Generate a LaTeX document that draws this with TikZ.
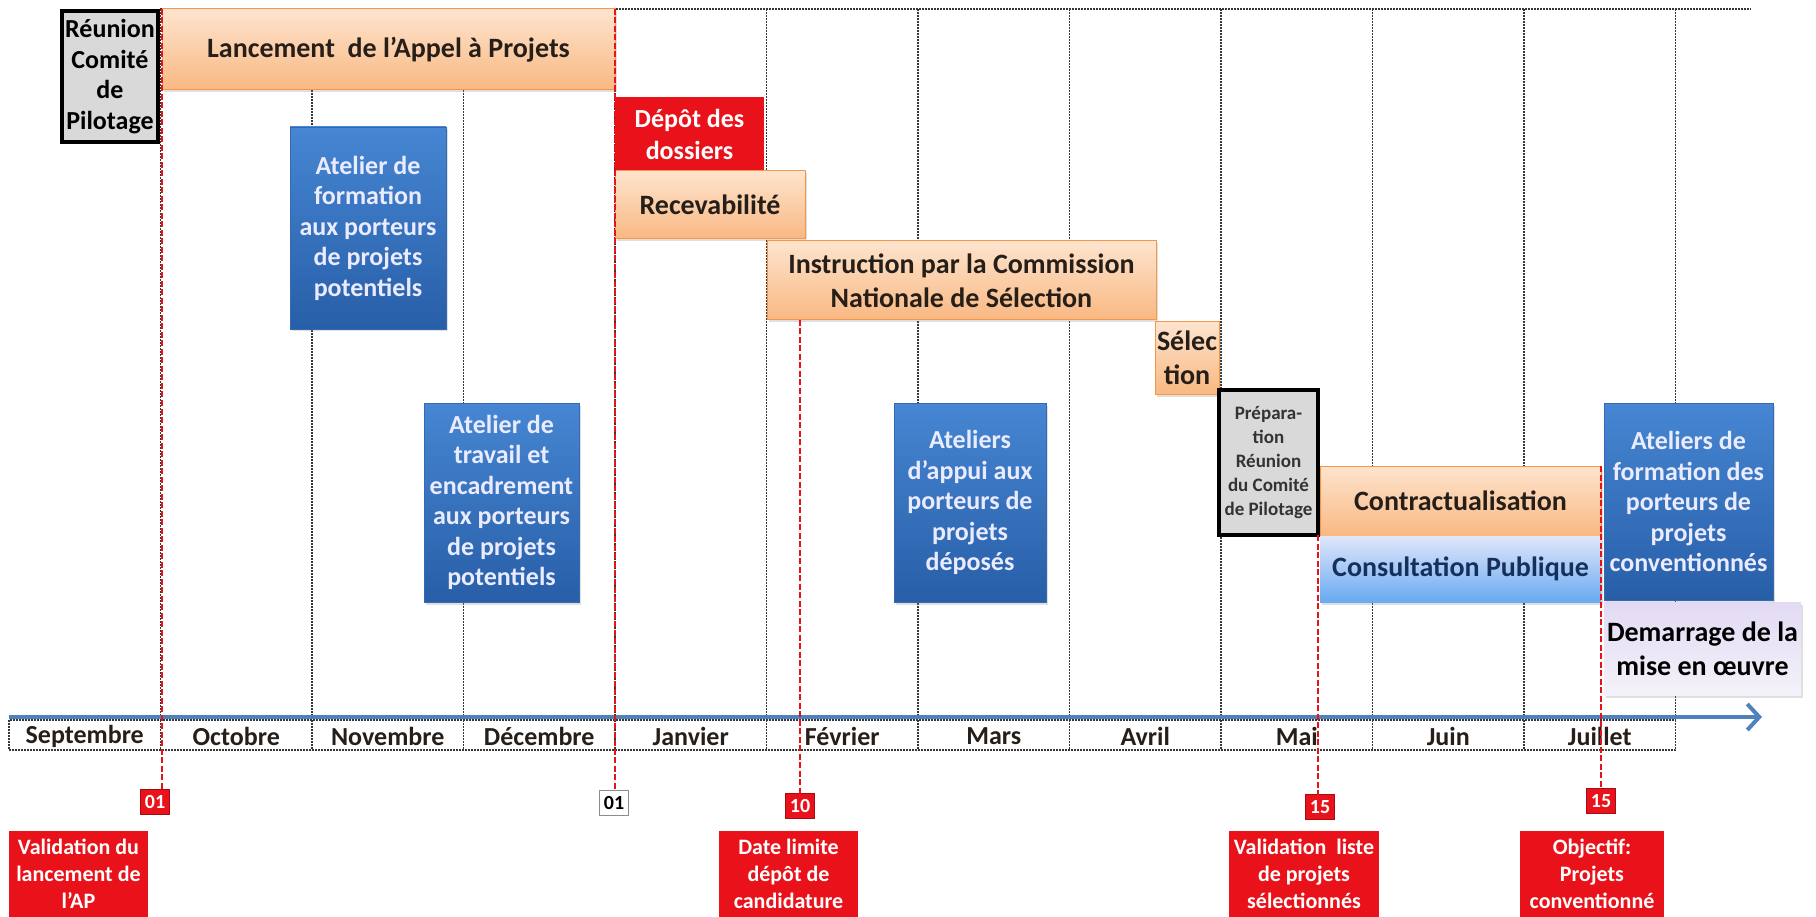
\documentclass[tikz,border=0pt]{standalone}
\usepackage{fontspec}
\setmainfont{Carlito}
\usetikzlibrary{positioning,arrows.meta,shadows}
\definecolor{peachtop}{RGB}{253,228,206}
\definecolor{peachbot}{RGB}{249,184,130}
\definecolor{orangeedge}{RGB}{246,150,72}
\definecolor{bluetop}{RGB}{70,134,210}
\definecolor{bluebot}{RGB}{40,94,168}
\definecolor{blueedge}{RGB}{52,106,178}
\definecolor{skytop}{RGB}{226,230,250}
\definecolor{skybot}{RGB}{104,170,242}
\definecolor{lavtop}{RGB}{226,218,244}
\definecolor{lavbot}{RGB}{244,242,249}
\definecolor{markred}{RGB}{234,18,26}
\definecolor{boxgray}{RGB}{217,217,217}
\definecolor{darkgrid}{RGB}{55,55,55}
\definecolor{arrowblue}{RGB}{79,129,189}
\definecolor{inkdark}{RGB}{38,30,24}
\definecolor{navyink}{RGB}{22,48,92}
\tikzset{%
  inner sep=0pt,%
  outer sep=0pt,%
  softshadow/.style={drop shadow={opacity=0.25,shadow xshift=1.5pt,shadow yshift=-2.5pt}},
  gridline/.style={draw=darkgrid,line width=1.9pt,dash pattern=on 2pt off 1pt},
  redline/.style={draw=markred,line width=2.5pt,dash pattern=on 6pt off 2.5pt},
  timearrow/.style={draw=arrowblue,line width=4pt,-{Straight Barb[length=12pt,width=26pt]}},
  orangebox/.style={align=center,draw=orangeedge,line width=1pt,top color=peachtop,
    bottom color=peachbot,text=inkdark,font=\fontsize{28}{34}\selectfont\bfseries,softshadow},
  bluebox/.style={align=center,draw=blueedge,line width=0.6pt,top color=bluetop,
    bottom color=bluebot,text=white!92!blue,font=\fontsize{26}{30.5}\selectfont\bfseries,softshadow},
  graybox/.style={align=center,draw=black,line width=4pt,fill=boxgray,text=black,
    font=\fontsize{26}{30.5}\selectfont\bfseries},
  redbox/.style={align=center,fill=markred,text=white,font=\fontsize{26}{32}\selectfont\bfseries},
  monthlabel/.style={text=inkdark,font=\fontsize{26}{30}\selectfont\bfseries},
  datemark/.style={fill=markred,draw=markred!70!black,line width=0.8pt,text=white,
    minimum width=29,minimum height=25,font=\fontsize{20}{22}\selectfont\bfseries},
  notebox/.style={align=center,fill=markred,text=white,font=\fontsize{22}{27}\selectfont\bfseries}
}
\begin{document}
\begin{tikzpicture}[x=1pt,y=-1pt]
	%% some definitions
	
	\def\xO{9} % left edge of the month row
	\def\colW{151.5} % width of one month
	\def\yTop{9} % top of the grid
	\def\yRow{720} % top of the month row
	\def\yBot{750} % bottom of the month row
	
	\useasboundingbox (0,0) rectangle (1816,917);
	
	%% month grid
	
	\draw[gridline] (160,\yTop) -- (1751,\yTop);
	\foreach \k in {1,...,11}
	  \draw[gridline] ({\xO+\k*\colW},\yTop) -- ({\xO+\k*\colW},\yBot);
	\draw[gridline] (\xO,\yRow) rectangle ({\xO+11*\colW},\yBot);
	\foreach \m [count=\i from 0] in {Septembre,Octobre,Novembre,D\'ecembre,Janvier,F\'evrier,Mars,Avril,Mai,Juin,Juillet}
	  \node[monthlabel] (month\i) at ({\xO+(\i+0.5)*\colW},736) {\m};
	
	\coordinate (arrowS) at (\xO,717);
	\coordinate (arrowE) at (1762,717);
	\draw[timearrow] (arrowS) -- (arrowE);
	
	%% phases
	
	\node[graybox,minimum width=96,minimum height=131] (reunion) at (110,76.5)
	  {Réunion\\Comité\\de\\Pilotage};
	\node[orangebox,minimum width=453,minimum height=81] (lancement) at (388.5,49.5)
	  {Lancement~ de l'Appel à Projets};
	\node[bluebox,minimum width=156,minimum height=202] (atelierA) at (368,228)
	  {Atelier de\\formation\\aux porteurs\\de projets\\potentiels};
	\node[bluebox,minimum width=155,minimum height=199] (atelierB) at (501.5,502.5)
	  {Atelier de\\travail et\\encadrement\\aux porteurs\\de projets\\potentiels};
	\node[redbox,minimum width=149,minimum height=74] (depot) at (689.5,134)
	  {Dépôt des\\dossiers};
	\node[orangebox,minimum width=190,minimum height=68,anchor=north west] (recev) at (depot.south west)
	  {Recevabilité};
	\node[orangebox,minimum width=389,minimum height=79] (instruction) at (961.5,280.5)
	  {Instruction par la Commission\\Nationale de Sélection};
	\node[orangebox,minimum width=64,minimum height=72] (selection) at (1187,358)
	  {Sélec\\tion};
	\node[bluebox,minimum width=152,minimum height=199] (atelierC) at (970,502.5)
	  {Ateliers\\d'appui aux\\porteurs de\\projets\\déposés};
	\node[graybox,minimum width=99,minimum height=145,text=black!80,
	  font=\fontsize{19}{24}\selectfont\bfseries] (prep) at (1268.5,462.5)
	  {Prépara-\\tion\\Réunion\\du Comité\\de Pilotage};
	\node[orangebox,minimum width=281,minimum height=70] (contract) at (1460.5,501)
	  {Contractualisation};
	\node[orangebox,draw=none,top color=skytop,bottom color=skybot,text=navyink,
	  minimum width=281,minimum height=66,below=0pt of contract] (consult)
	  {Consultation Publique};
	\node[bluebox,minimum width=169,minimum height=197] (atelierD) at (1688.5,501.5)
	  {Ateliers de\\formation des\\porteurs de\\projets\\conventionnés};
	\node[orangebox,draw=none,top color=lavtop,bottom color=lavbot,text=black,
	  minimum width=197,minimum height=93] (demarrage) at (1702.5,648.5)
	  {Demarrage de la\\mise en œuvre};
	
	%% dates
	
	\node[datemark] (dateA) at (155,802) {01};
	\node[datemark,fill=white,draw=black!45,text=black] (dateB) at (614,803) {01};
	\node[datemark] (dateC) at (800,806) {10};
	\node[datemark] (dateD) at (1320,807) {15};
	\node[datemark] (dateE) at (1601,801) {15};
	
	\node[notebox,minimum width=139,minimum height=86] (noteA) at (78.5,874)
	  {Validation du\\lancement de\\l'AP};
	\node[notebox,minimum width=139,minimum height=86] (noteC) at (788.5,874)
	  {Date limite\\dépôt de\\candidature};
	\node[notebox,minimum width=150,minimum height=86] (noteD) at (1304,874)
	  {Validation~ liste\\de projets\\sélectionnés};
	\node[notebox,minimum width=144,minimum height=86] (noteE) at (1592,874)
	  {Objectif:\\Projets\\conventionné};
	
	%% milestone lines
	
	\coordinate (topA) at (162,\yTop);
	\coordinate (topB) at (615,\yTop);
	\draw[redline] (topA) -- (topA |- dateA.north);
	\draw[redline] (topB) -- (topB |- dateB.north);
	\draw[redline] (instruction.south -| dateC.north) -- (dateC.north);
	\draw[redline] (prep.south east) -- (prep.south east |- dateD.north);
	\draw[redline] (contract.north east) -- (contract.north east |- dateE.north);
	
\end{tikzpicture}
\end{document}
